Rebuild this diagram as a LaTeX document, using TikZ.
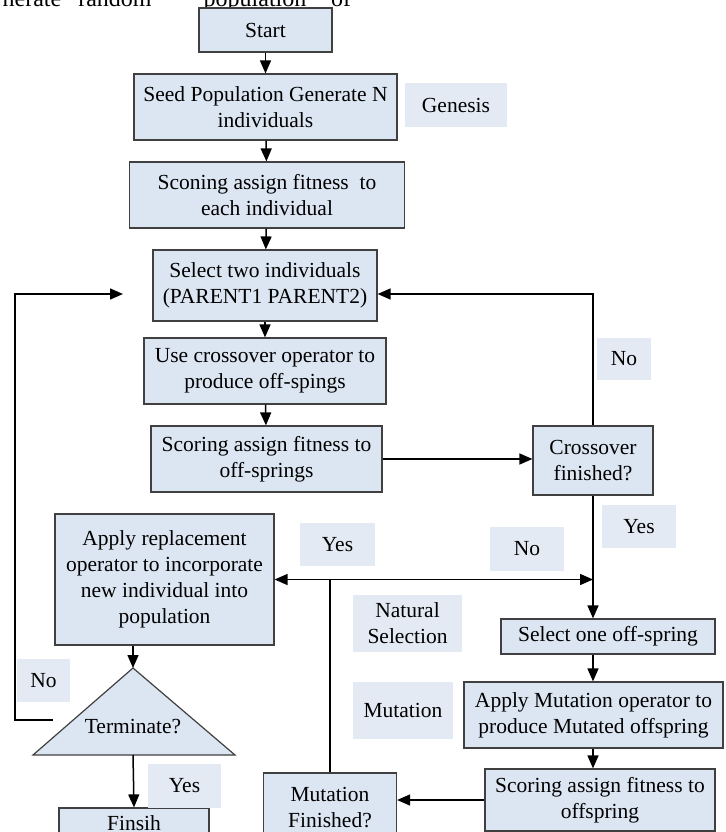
\documentclass[tikz,border=0pt]{standalone}
\usepackage{fontspec}
\setmainfont{Liberation Serif}
\usetikzlibrary{arrows.meta}
\usetikzlibrary{calc}
\definecolor{blue1}{RGB}{220, 230, 242}
\definecolor{blue2}{RGB}{228, 234, 244}
\definecolor{gray1}{RGB}{64, 64, 64}

\begin{document}
\begin{tikzpicture}[x=1pt, y=-1pt, line width=1.5pt, >={Triangle[length=13pt,width=11pt]},
  box/.style={draw=gray1, fill=blue1, line width=1.2pt, align=center, inner sep=0pt,
    font=\fontsize{21.5}{26}\selectfont},
  lab/.style={fill=blue2, align=center, inner sep=0pt, font=\fontsize{21.5}{26}\selectfont}]
  \useasboundingbox (0,0) rectangle (725,832);

  % cut-off line of the page above
  \foreach \w/\x [count=\i] in {nerate/32, random/115, population/255, of/341}
    \node[anchor=base, font=\fontsize{24}{28}\selectfont] (top\i) at (\x,7) {\w};

  % main column
  \node[box, minimum width=133pt, minimum height=44pt] (start) at (265.5,30) {Start};
  \node[box, minimum width=263pt, minimum height=66pt] (seed) at (265.5,107) {Seed Population Generate N\\individuals};
  \node[box, minimum width=275pt, minimum height=66pt] (score1) at (267,195) {Sconing assign fitness~ to\\each individual};
  \node[box, minimum width=224pt, minimum height=71pt] (select2) at (265,285.5) {Select two individuals\\(PARENT1 PARENT2)};
  \node[box, minimum width=242pt, minimum height=66pt] (cross) at (265,371) {Use crossover operator to\\produce off-spings};
  \node[box, minimum width=231pt, minimum height=66pt] (score2) at (266.5,459) {Scoring assign fitness to\\off-springs};
  \node[box, minimum width=120pt, minimum height=69pt] (cfin) at (593,460.5) {Crossover\\finished?};

  % mutation column
  \node[box, minimum width=214pt, minimum height=35pt] (selone) at (608,636.5) {Select one off-spring};
  \node[box, minimum width=259pt, minimum height=66pt] (mutop) at (593.5,715) {Apply Mutation operator to\\produce Mutated offspring};
  \node[box, minimum width=230pt, minimum height=62pt] (score3) at (600,800) {Scoring assign fitness to\\offspring};
  \node[box, minimum width=133pt, minimum height=70pt] (mfin) at (330,808) {Mutation\\Finished?};

  % replacement and end
  \node[box, minimum width=219pt, minimum height=131pt] (repl) at (164.5,579.5) {Apply replacement\\operator to incorporate\\new individual into\\population};
  \coordinate (tapex) at (133,668);
  \coordinate (tleft) at (33,755);
  \coordinate (tright) at (235,755);
  \draw[draw=gray1, fill=blue1, line width=1.2pt] (tapex) -- (tright) -- (tleft) -- cycle;
  \node[font=\fontsize{21.5}{26}\selectfont] (term) at (133,727) {Terminate?};
  \node[box, minimum width=150pt, minimum height=30pt] (finish) at (134,823) {Finsih};

  % labels
  \node[lab, minimum width=102pt, minimum height=44pt] (genesis) at (456,105) {Genesis};
  \node[lab, minimum width=54pt, minimum height=42pt] (noA) at (624,359) {No};
  \node[lab, minimum width=74pt, minimum height=43pt] (yesA) at (639,526.5) {Yes};
  \node[lab, minimum width=74pt, minimum height=44pt] (noB) at (527,549) {No};
  \node[lab, minimum width=75pt, minimum height=43pt] (yesB) at (337.5,544.5) {Yes};
  \node[lab, minimum width=109pt, minimum height=57pt] (natsel) at (407.5,623.5) {Natural\\Selection};
  \node[lab, minimum width=100pt, minimum height=57pt] (mutlab) at (403,710.5) {Mutation};
  \node[lab, minimum width=53pt, minimum height=43pt] (noC) at (43.5,680.5) {No};
  \node[lab, minimum width=73pt, minimum height=44pt] (yesC) at (184.5,786) {Yes};

  \coordinate (jl) at (mfin.north |- repl.east);
  \coordinate (jr) at (cfin.south |- repl.east);
  \coordinate (nostart) at (53,720);
  \coordinate (noend) at (123,294);

  \foreach \from/\to in {start/seed, seed/score1, score1/select2, select2/cross, cross/score2}
    \draw[->] (\from) -- (\to);
  \draw[->] (score2.east) -- (score2.east -| cfin.west);
  \draw[->] (cfin.north) |- ($(select2.east)+(0,8.5)$);
  \draw[->] (cfin.south) -- (cfin.south |- selone.north);
  \draw[->] (cfin.south |- selone.south) -- (cfin.south |- mutop.north);
  \draw[->] (cfin.south |- mutop.south) -- (cfin.south |- score3.north);
  \draw[->] (score3.west) -- (score3.west -| mfin.east);
  \draw (mfin.north) -- (jl);
  \draw[->] (jl) -- (repl.east);
  \draw[->] (jl) -- (jr);
  \draw[->] (repl.south -| tapex) -- (tapex);
  \draw[->] (tleft -| tapex) -- (finish.north);
  \draw[->] (nostart) -- ++(-38,0) |- (noend);
\end{tikzpicture}
\end{document}
